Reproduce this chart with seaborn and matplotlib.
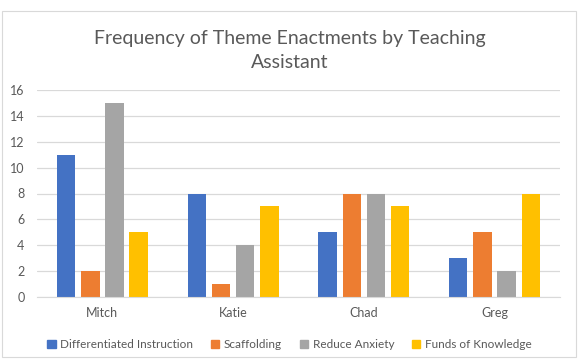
import numpy as np
import pandas as pd
import matplotlib
matplotlib.use("Agg")
import matplotlib.pyplot as plt
import seaborn as sns

# ========== DATA ==========
assistants = ["Mitch", "Katie", "Chad", "Greg"]
themes = ["Differentiated Instruction", "Scaffolding", "Reduce Anxiety", "Funds of Knowledge"]
differentiated = [11, 8, 5, 3]
scaffolding = [2, 1, 8, 5]
reduce_anxiety = [15, 4, 8, 2]
funds_knowledge = [5, 7, 7, 8]
colors = ["#4472C4", "#ED7D31", "#A5A5A5", "#FFC000"]

rows = []
for series_name, vals in zip(themes, [differentiated, scaffolding, reduce_anxiety, funds_knowledge]):
    for who, v in zip(assistants, vals):
        rows.append({"Assistant": who, "Theme": series_name, "Count": v})
df = pd.DataFrame(rows)

sns.set_style("white")
plt.rcParams["font.family"] = ["Lato", "DejaVu Sans"]
text_grey = "#595959"

fig = plt.figure(figsize=(5.79, 3.6), dpi=100)
ax = fig.add_axes([0.064, 0.175, 0.903, 0.575])

sns.barplot(data=df, x="Assistant", y="Count", hue="Theme", hue_order=themes,
            order=assistants, palette=colors, width=0.74, gap=0.24,
            saturation=1, linewidth=0, edgecolor="none", ax=ax, legend=True)

ax.set_ylim(0, 16)
ax.set_yticks(range(0, 17, 2))
ax.yaxis.grid(True, color="#D9D9D9", linewidth=0.9)
ax.set_axisbelow(True)
for s in ["top", "right", "left"]:
    ax.spines[s].set_visible(False)
ax.spines["bottom"].set_color("#D9D9D9")
ax.tick_params(axis="y", length=0, labelsize=9, labelcolor=text_grey, pad=9)
ax.tick_params(axis="x", length=0, labelsize=9, labelcolor=text_grey, pad=7)
ax.set_xlabel("")
ax.set_ylabel("")

fig.text(0.5, 0.86, "Frequency of Theme Enactments by Teaching\nAssistant",
         ha="center", va="center", fontsize=14, color=text_grey, linespacing=1.5)

ax.get_legend().remove()
handles = [plt.Rectangle((0, 0), 1, 1, color=c) for c in colors]
fig.legend(handles, themes, loc="center", bbox_to_anchor=(0.5, 0.043), ncol=4,
           frameon=False, fontsize=8.5, labelcolor=text_grey, handlelength=0.7,
           handleheight=0.7, handletextpad=0.4, columnspacing=1.5)

fig.patches.append(plt.Rectangle((0.004, 0.008), 0.99, 0.962, transform=fig.transFigure,
                                 fill=False, edgecolor="#D9D9D9", linewidth=0.8))

fig.savefig("out.png", dpi=100)
